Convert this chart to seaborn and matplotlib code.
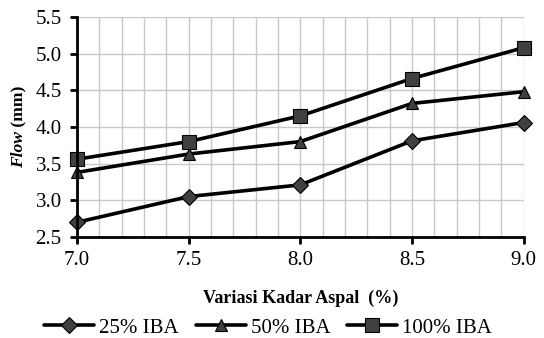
import matplotlib
matplotlib.use("Agg")
import matplotlib.pyplot as plt
import seaborn as sns
import pandas as pd
from matplotlib.ticker import MultipleLocator, FormatStrFormatter
from matplotlib.offsetbox import TextArea, VPacker, AnchoredOffsetbox

kadar = [7.0, 7.5, 8.0, 8.5, 9.0]
flow_25 = [2.70, 3.05, 3.21, 3.81, 4.06]
flow_50 = [3.38, 3.63, 3.80, 4.32, 4.48]
flow_100 = [3.56, 3.80, 4.15, 4.66, 5.08]
labels = ["25% IBA", "50% IBA", "100% IBA"]
markers = ["D", "^", "s"]

df = pd.DataFrame({
    "x": kadar * 3,
    "y": flow_25 + flow_50 + flow_100,
    "s": [labels[0]] * 5 + [labels[1]] * 5 + [labels[2]] * 5,
})

sns.set_theme(style="white")
plt.rcParams["font.family"] = ["Liberation Serif", "DejaVu Serif"]

fig = plt.figure(figsize=(5.44, 3.38), dpi=100)
ax = fig.add_axes([0.1415, 0.299, 0.821, 0.651])

msizes = {"D": 8, "^": 9, "s": 9.5}
for lab, m in zip(labels, markers):
    sub = df[df["s"] == lab]
    sns.lineplot(data=sub, x="x", y="y", ax=ax, color="black", linewidth=2.6,
                 marker=m, markersize=msizes[m], markerfacecolor="#404040",
                 markeredgecolor="black", markeredgewidth=0.8, label=lab,
                 zorder=3, clip_on=False)

ax.set_xlim(7.0, 9.0)
ax.set_ylim(2.5, 5.5)
ax.xaxis.set_major_locator(MultipleLocator(0.5))
ax.xaxis.set_minor_locator(MultipleLocator(0.1))
ax.yaxis.set_major_locator(MultipleLocator(0.5))
ax.xaxis.set_major_formatter(FormatStrFormatter("%.1f"))
ax.yaxis.set_major_formatter(FormatStrFormatter("%.1f"))
ax.grid(True, which="both", axis="x", color="#c8c8c8", linewidth=1.0)
ax.grid(True, which="major", axis="y", color="#c8c8c8", linewidth=1.0)
ax.set_axisbelow(True)

for s in ["top", "right"]:
    ax.spines[s].set_visible(False)
for s in ["left", "bottom"]:
    ax.spines[s].set_color("black")
    ax.spines[s].set_linewidth(2.0)
    ax.spines[s].set_zorder(4)

ax.tick_params(axis="both", which="major", direction="out", length=5, width=2,
               color="black", labelsize=15, labelcolor="black",
               bottom=True, left=True)
ax.tick_params(axis="x", which="major", pad=5)
ax.tick_params(axis="y", which="major", pad=6)
ax.tick_params(axis="x", which="minor", length=0)

ax.set_xlabel("Variasi Kadar Aspal  (%)", fontsize=13, fontweight="bold",
              color="black", labelpad=14)
ax.set_ylabel("")

# y label with italic "Flow"
t1 = TextArea("Flow", textprops=dict(fontsize=12.6, fontweight="bold",
                                     fontstyle="italic", color="black",
                                     rotation=90))
t2 = TextArea(" (mm)", textprops=dict(fontsize=12.6, fontweight="bold",
                                      color="black", rotation=90))
box = VPacker(children=[t2, t1], align="center", pad=0, sep=0)
ab = AnchoredOffsetbox(loc="center", child=box, frameon=False,
                       bbox_to_anchor=(0.035, 0.625), bbox_transform=fig.transFigure,
                       borderpad=0, pad=0)
fig.add_artist(ab)

leg = ax.legend(loc="center", bbox_to_anchor=(0.493, 0.03),
                bbox_transform=fig.transFigure, ncol=3, frameon=False,
                fontsize=15, handlelength=2.4, columnspacing=0.8,
                handletextpad=0.25, borderaxespad=0, borderpad=0)
for t in leg.get_texts():
    t.set_color("black")

fig.savefig("out.png", dpi=100)
